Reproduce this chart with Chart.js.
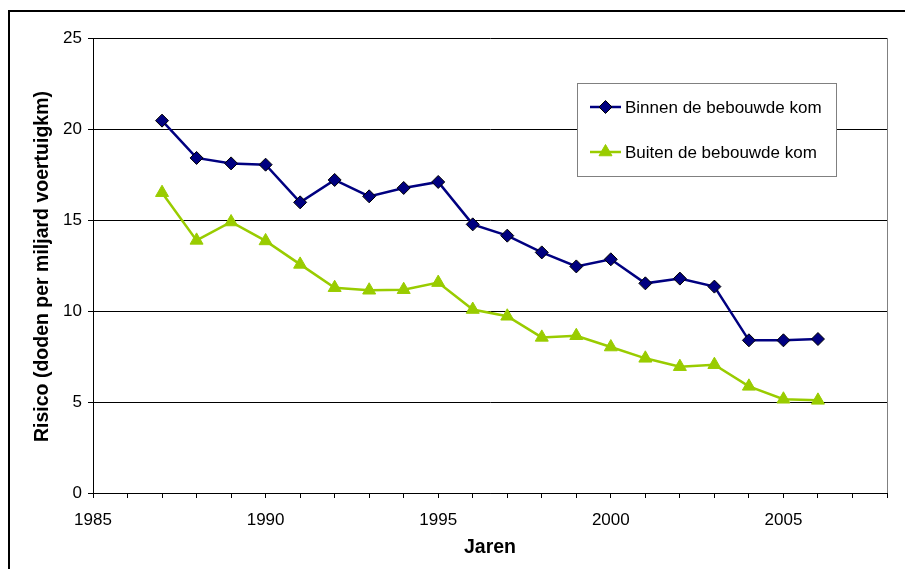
<!DOCTYPE html>
<html>
<head>
<meta charset="utf-8">
<script src="https://cdn.jsdelivr.net/npm/chart.js@4/dist/chart.umd.min.js"></script>
<style>
  html, body { margin: 0; padding: 0; background: #ffffff; }
  #wrap { width: 905px; height: 569px; position: relative; }
</style>
</head>
<body>
<div id="wrap"><canvas id="c" width="905" height="569"></canvas></div>
<script>
// Road-traffic risk per year, inside and outside built-up areas
const years = [1987, 1988, 1989, 1990, 1991, 1992, 1993, 1994, 1995, 1996,
               1997, 1998, 1999, 2000, 2001, 2002, 2003, 2004, 2005, 2006];
const binnenValues = [20.46, 18.41, 18.11, 18.04, 15.97, 17.2, 16.3, 16.76, 17.09, 14.76,
                      14.14, 13.22, 12.45, 12.84, 11.52, 11.78, 11.34, 8.39, 8.39, 8.46];
const buitenValues = [16.5, 13.88, 14.89, 13.85, 12.56, 11.28, 11.14, 11.17, 11.56, 10.08,
                      9.71, 8.55, 8.64, 8.02, 7.4, 6.94, 7.05, 5.86, 5.15, 5.09];
const seriesNames = ['Binnen de bebouwde kom', 'Buiten de bebouwde kom'];
const xAxisTitle = 'Jaren';
const yAxisTitle = 'Risico (doden per miljard voertuigkm)';

const FONT = '"Liberation Sans", Arial, sans-serif';
const NAVY = '#000080';
const GREEN = '#99CC00';

const toPoints = vals => years.map((yr, i) => ({ x: yr, y: vals[i] }));

// Outer frame, right plot edge, axis titles and the boxed legend
const decorations = {
  id: 'decorations',
  beforeDraw(chart) {
    const ctx = chart.ctx;
    ctx.save();
    ctx.fillStyle = '#ffffff';
    ctx.fillRect(0, 0, chart.width, chart.height);
    ctx.fillStyle = '#000000';
    ctx.fillRect(8, 10, 2, chart.height);
    ctx.fillRect(8, 10, chart.width, 2);
    ctx.restore();
  },
  afterDraw(chart) {
    const ctx = chart.ctx;
    const a = chart.chartArea;
    ctx.save();
    // right edge of the plot area
    ctx.strokeStyle = '#808080';
    ctx.lineWidth = 1;
    ctx.beginPath();
    ctx.moveTo(Math.round(a.right) + 0.5, a.top);
    ctx.lineTo(Math.round(a.right) + 0.5, a.bottom);
    ctx.stroke();

    // axis titles
    ctx.fillStyle = '#000000';
    ctx.font = 'bold 19.5px ' + FONT;
    ctx.textAlign = 'center';
    ctx.textBaseline = 'middle';
    ctx.fillText(xAxisTitle, (a.left + a.right) / 2, 548);
    ctx.save();
    ctx.translate(43, (a.top + a.bottom) / 2 + 1);
    ctx.rotate(-Math.PI / 2);
    ctx.fillText(yAxisTitle, 0, 0);
    ctx.restore();

    // legend box
    const bx = 577.5, by = 83.5, bw = 259, bh = 93;
    ctx.fillStyle = '#ffffff';
    ctx.fillRect(bx, by, bw, bh);
    ctx.strokeStyle = '#808080';
    ctx.lineWidth = 1;
    ctx.strokeRect(bx, by, bw, bh);
    const rows = [107, 152];
    chart.data.datasets.forEach((ds, i) => {
      const y = rows[i];
      ctx.strokeStyle = ds.borderColor;
      ctx.lineWidth = ds.borderWidth;
      ctx.beginPath();
      ctx.moveTo(590, y);
      ctx.lineTo(621, y);
      ctx.stroke();
      ctx.fillStyle = ds.pointBackgroundColor;
      ctx.strokeStyle = ds.pointBorderColor;
      ctx.lineWidth = ds.pointBorderWidth;
      Chart.helpers.drawPoint(ctx, {
        pointStyle: ds.pointStyle,
        radius: ds.pointRadius,
        rotation: 0,
        borderWidth: ds.pointBorderWidth
      }, 605.5, y);
      ctx.fillStyle = '#000000';
      ctx.font = '17px ' + FONT;
      ctx.textAlign = 'left';
      ctx.textBaseline = 'middle';
      ctx.fillText(ds.label, 625, y + 1);
    });
    ctx.restore();
  }
};

new Chart(document.getElementById('c'), {
  type: 'line',
  data: {
    datasets: [
      {
        label: seriesNames[0],
        data: toPoints(binnenValues),
        borderColor: NAVY,
        borderWidth: 2.5,
        pointStyle: 'rectRot',
        pointRadius: 6.5,
        pointBackgroundColor: NAVY,
        pointBorderColor: '#000000',
        pointBorderWidth: 1,
        tension: 0
      },
      {
        label: seriesNames[1],
        data: toPoints(buitenValues),
        borderColor: GREEN,
        borderWidth: 2.5,
        pointStyle: 'triangle',
        pointRadius: 7.5,
        pointBackgroundColor: GREEN,
        pointBorderColor: GREEN,
        pointBorderWidth: 1,
        tension: 0
      }
    ]
  },
  options: {
    responsive: false,
    animation: false,
    devicePixelRatio: 1,
    layout: { padding: { top: 38, right: 18, left: 0, bottom: 0 } },
    plugins: {
      legend: { display: false },
      tooltip: { enabled: false }
    },
    scales: {
      x: {
        type: 'linear',
        min: 1985,
        max: 2008,
        afterFit(scale) { scale.height = 76; },
        border: { display: true, color: '#000000', width: 1 },
        grid: {
          drawOnChartArea: false,
          drawTicks: true,
          tickLength: 5,
          color: '#000000'
        },
        ticks: {
          stepSize: 1,
          autoSkip: false,
          maxRotation: 0,
          padding: 12,
          color: '#000000',
          font: { family: FONT, size: 17 },
          callback: v => (v % 5 === 0 ? String(v) : '')
        }
      },
      y: {
        min: 0,
        max: 25,
        afterFit(scale) { scale.width = 93; },
        border: { display: true, color: '#000000', width: 1 },
        grid: {
          drawOnChartArea: true,
          drawTicks: true,
          tickLength: 5,
          color: '#000000'
        },
        ticks: {
          stepSize: 5,
          padding: 6,
          color: '#000000',
          font: { family: FONT, size: 17 }
        }
      }
    }
  },
  plugins: [decorations]
});
</script>
</body>
</html>
